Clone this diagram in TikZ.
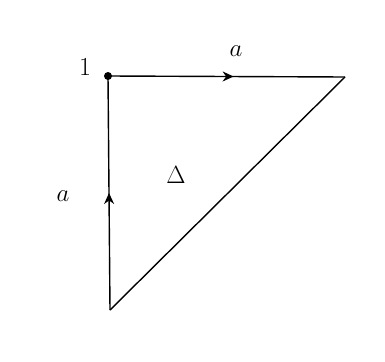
\documentclass[tikz,border=0pt]{standalone}
\usetikzlibrary{decorations.markings,arrows.meta}
\begin{document}
\begin{tikzpicture}[x=1pt,y=-1pt,
  edge/.style={line width=1.4pt},
  midarrow/.style={postaction={decorate},decoration={markings,mark=at position #1 with {\arrow{Stealth[length=11pt,width=10pt]}}}},
  lbl/.style={font=\fontsize{26}{30}\selectfont}]
\useasboundingbox (0,0) rectangle (385,361);
\coordinate (p) at (108,76);
\coordinate (q) at (345,77);
\coordinate (r) at (110,310);
\draw[edge] (q) -- (r);
\draw[edge,midarrow=0.5] (r) -- (p);
\draw[edge,midarrow=0.53] (p) -- (q);
\fill (p) circle (4pt);
\node[lbl] (one) at (85,67) {1};
\node[lbl] (a1) at (236,51) {$a$};
\node[lbl] (a2) at (63,196) {$a$};
\node[lbl] (tri) at (176,175) {$\Delta$};
\end{tikzpicture}
\end{document}
